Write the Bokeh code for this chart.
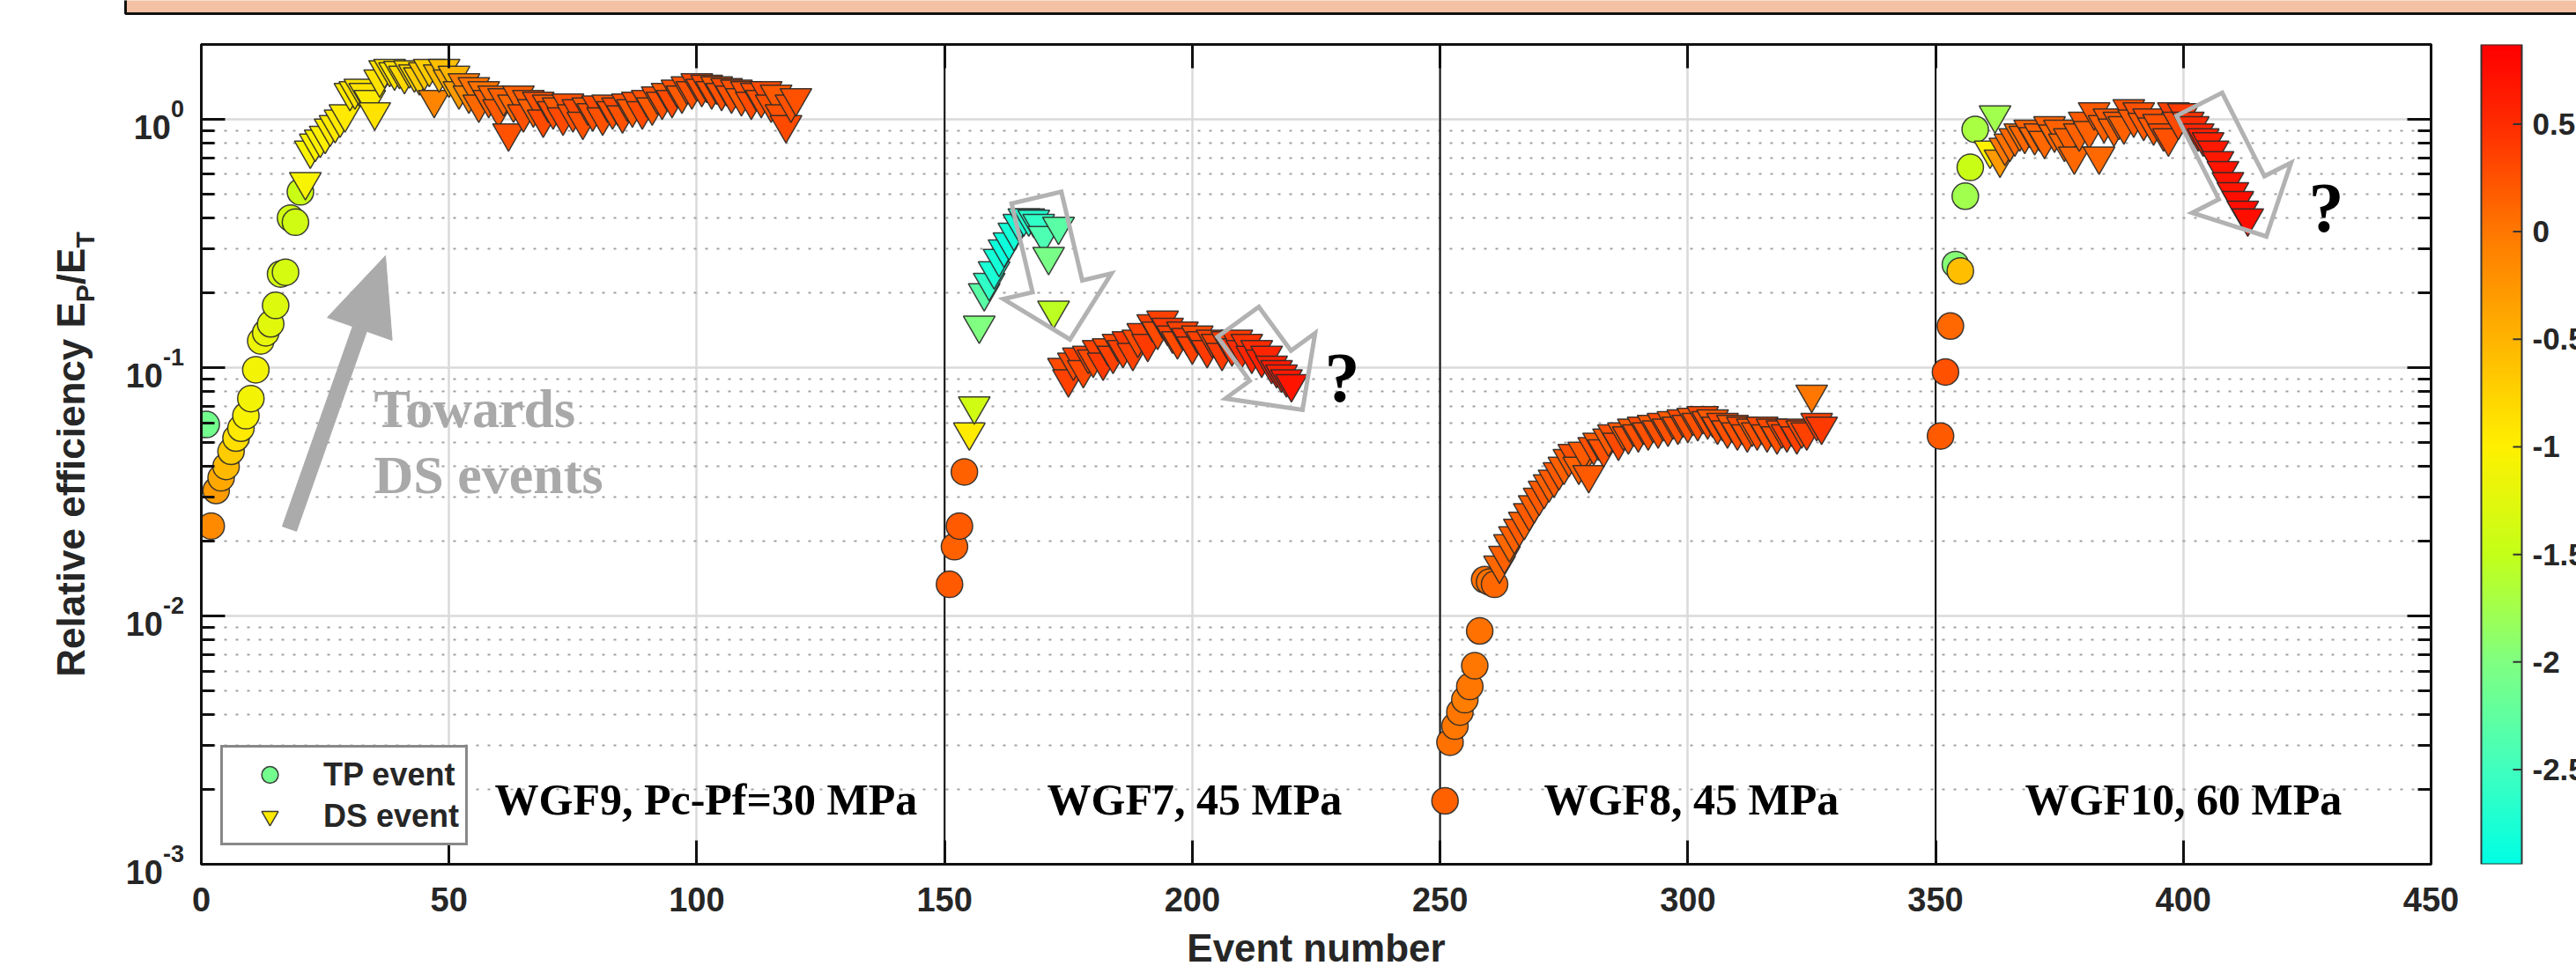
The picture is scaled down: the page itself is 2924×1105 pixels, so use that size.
import math
import numpy as np
from bokeh.plotting import figure
from bokeh.models import (ColumnDataSource, LinearColorMapper, Span, Label, Legend, LegendItem,
                          FixedTicker, LinearAxis, LogAxis, CustomJSTickFormatter, Range1d, Div)
from bokeh.layouts import row, column
from bokeh.embed import file_html
from bokeh.resources import INLINE
from bokeh.core.properties import value

# ----------------------------------------------------------------- data
x_ticks = [0, 50, 100, 150, 200, 250, 300, 350, 400, 450]
y_decades = [1e-3, 1e-2, 1e-1, 1.0]
y_exp_labels = ["-3", "-2", "-1", "0"]
group_bounds = [150, 250, 350]
group_labels = ["WGF9, Pc-Pf=30 MPa", "WGF7, 45 MPa", "WGF8, 45 MPa", "WGF10, 60 MPa"]

# WGF9 (events 1-120)
wgf9_tp_x = [1, 2, 3, 4, 5, 6, 7, 8, 9, 10, 11, 12, 13, 14, 15, 16, 17, 18, 19, 20]
wgf9_tp_y = [0.059, 0.023, 0.032, 0.036, 0.040, 0.046, 0.052, 0.057, 0.064, 0.075,
             0.098, 0.128, 0.138, 0.150, 0.178, 0.238, 0.242, 0.40, 0.385, 0.51]
wgf9_tp_c = [-2.1, -0.15, -0.3, -0.4, -0.55, -0.7, -0.85, -0.95, -1.05, -1.1,
             -1.1, -1.15, -1.2, -1.25, -1.3, -1.35, -1.35, -1.4, -1.4, -1.45]
wgf9_ds_first = 21
wgf9_ds_y = [0.56, 0.75, 0.80, 0.83, 0.86, 0.92, 0.95, 1.00, 1.05, 1.28,
             1.30, 1.33, 1.28, 1.20, 1.07, 1.45, 1.58, 1.60, 1.55, 1.57,
             1.50, 1.58, 1.52, 1.48, 1.55, 1.60, 1.20, 1.52, 1.60, 1.45,
             1.50, 1.30, 1.40, 1.25, 1.35, 1.15, 1.30, 1.20, 1.25, 1.10,
             1.22, 0.88, 1.15, 1.25, 1.05, 1.20, 1.10, 1.18, 1.00, 1.15,
             1.08, 1.12, 1.02, 1.16, 1.05, 1.10, 0.98, 1.12, 1.06, 1.14,
             1.02, 1.15, 1.08, 1.12, 1.04, 1.16, 1.10, 1.18, 1.08, 1.20,
             1.12, 1.24, 1.18, 1.28, 1.20, 1.32, 1.25, 1.36, 1.30, 1.40,
             1.33, 1.38, 1.30, 1.36, 1.28, 1.34, 1.25, 1.32, 1.22, 1.30,
             1.18, 1.28, 1.20, 1.30, 1.15, 1.26, 1.05, 0.95, 1.15, 1.22]
wgf9_ds_c = [-1.05, -1.05, -1.0, -1.0, -1.0, -0.95, -0.95, -0.95, -0.95, -0.95,
             -0.9, -0.9, -0.9, -0.95, -0.9, -0.9, -0.85, -0.85, -0.9, -0.85,
             -0.8, -0.75, -0.8, -0.7, -0.65, -0.7, -0.1, -0.55, -0.6, -0.45,
             -0.5, -0.3, -0.05, -0.1, 0.05, 0.1, 0.05, 0.15, 0.1, 0.2,
             0.15, 0.25, 0.1, 0.15, 0.25, 0.2, 0.15, 0.25, 0.3, 0.2,
             0.25, 0.2, 0.3, 0.25, 0.25, 0.3, 0.25, 0.2, 0.25, 0.3,
             0.25, 0.2, 0.25, 0.3, 0.25, 0.25, 0.2, 0.25, 0.3, 0.25,
             0.2, 0.25, 0.25, 0.2, 0.3, 0.25, 0.2, 0.25, 0.25, 0.3,
             0.25, 0.3, 0.25, 0.2, 0.25, 0.3, 0.25, 0.25, 0.2, 0.25,
             0.3, 0.25, 0.25, 0.3, 0.25, 0.2, 0.25, 0.3, 0.25, 0.25]

# WGF7 (events 151-220)
wgf7_tp_x = [151, 152, 153, 154]
wgf7_tp_y = [0.0134, 0.019, 0.023, 0.038]
wgf7_tp_c = [0.2, 0.15, 0.2, 0.15]
wgf7_ds_first = 155
wgf7_ds_y = [0.055, 0.070, 0.148, 0.20, 0.22, 0.245, 0.275, 0.30, 0.32, 0.35,
             0.38, 0.40, 0.40, 0.395, 0.38, 0.34, 0.28, 0.17, 0.37, 0.100,
             0.090, 0.105, 0.110, 0.098, 0.112, 0.108, 0.118, 0.105, 0.120, 0.112,
             0.125, 0.118, 0.128, 0.115, 0.130, 0.138, 0.125, 0.150, 0.140, 0.155,
             0.145, 0.135, 0.128, 0.140, 0.132, 0.122, 0.135, 0.128, 0.118, 0.130,
             0.125, 0.115, 0.128, 0.120, 0.130, 0.118, 0.125, 0.112, 0.118, 0.108,
             0.112, 0.102, 0.098, 0.094, 0.090, 0.086]
wgf7_ds_c = [-0.95, -1.4, -2.0, -2.3, -2.6, -2.75, -2.8, -2.85, -2.85, -2.8,
             -2.8, -2.75, -2.7, -2.7, -2.6, -2.4, -2.05, -1.55, -2.3, 0.3,
             0.35, 0.3, 0.35, 0.3, 0.35, 0.3, 0.35, 0.4, 0.3, 0.35,
             0.3, 0.35, 0.4, 0.35, 0.3, 0.35, 0.4, 0.35, 0.3, 0.35,
             0.4, 0.35, 0.3, 0.35, 0.4, 0.35, 0.3, 0.35, 0.4, 0.35,
             0.35, 0.4, 0.35, 0.45, 0.4, 0.5, 0.45, 0.55, 0.5, 0.6,
             0.55, 0.6, 0.65, 0.6, 0.65, 0.7]

# WGF8 (events 251-327)
wgf8_tp_x = [251, 252, 253, 254, 255, 256, 257, 258, 259, 260, 261]
wgf8_tp_y = [0.0018, 0.0031, 0.0036, 0.0041, 0.0046, 0.0052, 0.0063, 0.0087, 0.0140, 0.0137, 0.0134]
wgf8_tp_c = [0.15, 0.05, 0.0, 0.0, -0.05, 0.0, 0.0, 0.05, 0.05, 0.05, 0.1]
wgf8_ds_first = 262
wgf8_ds_y = [0.016, 0.0175, 0.0195, 0.021, 0.0225, 0.024, 0.026, 0.028, 0.030, 0.032,
             0.034, 0.0355, 0.038, 0.040, 0.043, 0.045, 0.040, 0.046, 0.037, 0.048,
             0.050, 0.047, 0.052, 0.054, 0.050, 0.055, 0.053, 0.057, 0.054, 0.058,
             0.055, 0.059, 0.056, 0.060, 0.057, 0.061, 0.058, 0.062, 0.059, 0.063,
             0.060, 0.064, 0.061, 0.062, 0.058, 0.060, 0.056, 0.059, 0.055, 0.058,
             0.054, 0.057, 0.055, 0.058, 0.054, 0.057, 0.053, 0.056, 0.054, 0.057,
             0.053, 0.056, 0.055, 0.078, 0.060, 0.058]
wgf8_ds_c = [0.1, 0.15, 0.1, 0.15, 0.2, 0.15, 0.2, 0.15, 0.2, 0.2,
             0.15, 0.2, 0.2, 0.15, 0.2, 0.25, 0.15, 0.2, 0.2, 0.25,
             0.2, 0.25, 0.2, 0.25, 0.3, 0.2, 0.25, 0.2, 0.25, 0.3,
             0.25, 0.2, 0.25, 0.3, 0.25, 0.2, 0.25, 0.3, 0.25, 0.2,
             0.25, 0.3, 0.25, 0.2, 0.25, 0.3, 0.25, 0.2, 0.25, 0.3,
             0.25, 0.2, 0.25, 0.3, 0.25, 0.3, 0.25, 0.3, 0.35, 0.3,
             0.35, 0.3, 0.35, 0.0, 0.35, 0.4]

# WGF10 (events 351-413)
wgf10_tp_x = [351, 352, 353, 354, 355, 356, 357, 358]
wgf10_tp_y = [0.053, 0.096, 0.147, 0.26, 0.245, 0.49, 0.64, 0.91]
wgf10_tp_c = [0.2, 0.25, 0.1, -1.95, -0.6, -1.75, -1.45, -1.7]
wgf10_ds_first = 361
wgf10_ds_y = [0.75, 1.04, 0.69, 0.77, 0.80, 0.84, 0.88, 0.86, 0.91, 0.85,
              0.88, 0.82, 0.94, 0.87, 0.91, 0.80, 0.84, 0.71, 0.88, 0.98,
              0.90, 1.07, 0.71, 0.95, 1.01, 0.92, 0.98, 0.94, 1.10, 1.00,
              1.07, 0.97, 1.01, 0.93, 0.96, 0.88, 0.84, 1.07, 0.98, 1.06,
              0.98, 0.94, 0.88, 0.84, 0.81, 0.75, 0.68, 0.62, 0.56, 0.51,
              0.47, 0.43, 0.40]
wgf10_ds_c = [-1.0, -1.75, -0.3, 0.0, 0.05, 0.1, 0.05, 0.1, 0.15, 0.1,
              0.15, 0.1, 0.15, 0.1, 0.15, 0.1, 0.15, 0.1, 0.15, 0.2,
              0.15, 0.2, 0.1, 0.15, 0.2, 0.15, 0.2, 0.15, 0.25, 0.2,
              0.25, 0.2, 0.25, 0.2, 0.25, 0.3, 0.25, 0.35, 0.3, 0.4,
              0.45, 0.5, 0.55, 0.6, 0.6, 0.65, 0.65, 0.7, 0.7, 0.7,
              0.75, 0.75, 0.75]

# colour bar
CB_LOW, CB_HIGH = -2.94, 0.87
cb_ticks = [0.5, 0.0, -0.5, -1.0, -1.5, -2.0, -2.5]
cb_tick_labels = ["0.5", "0", "-0.5", "-1", "-1.5", "-2", "-2.5"]
cb_stop_vals = [-2.94, -2.5, -2.0, -1.5, -1.0, -0.5, 0.0, 0.5, 0.87]
cb_stop_cols = ["#00FFE4", "#40FFBE", "#80FF80", "#C4FF18", "#FFF000",
                "#FFB400", "#FF7800", "#FF2C00", "#FF0000"]

# --------------------------------------------------------------- styling
def _rgb(h):
    return [int(h[i:i + 2], 16) for i in (1, 3, 5)]

_stops = np.array([_rgb(c) for c in cb_stop_cols], dtype=float)
palette = []
for v in np.linspace(CB_LOW, CB_HIGH, 256):
    r, g, b = (np.interp(v, cb_stop_vals, _stops[:, k]) for k in range(3))
    palette.append("#%02X%02X%02X" % (int(round(r)), int(round(g)), int(round(b))))
mapper = LinearColorMapper(palette=palette, low=CB_LOW, high=CB_HIGH)

SANS = "Liberation Sans"
SERIF = "Liberation Serif"
INK = "#262626"

PAGE_W, PAGE_H = 2924, 1105
BANNER_H = 17
ROW_H = PAGE_H - BANNER_H
LEFT_W = 215
CB_X0 = 2800
FL, FR, FT, FB = 228, 2759, 50, 981         # frame edges on the page
XMIN, XMAX = 0, 450
YMIN, YMAX = 1e-3, 2.0
LY0, LY1 = math.log10(YMIN), math.log10(YMAX)
BASE_SHIFT = 0.35                            # alphabetic-baseline correction (fraction of em)


def px2x(px):
    return XMIN + (px - FL) / (FR - FL) * (XMAX - XMIN)


def py2y(py):
    return 10 ** (LY0 + (FB - py) / (FB - FT) * (LY1 - LY0))


def y2py(v):
    return FB - (math.log10(v) - LY0) / (LY1 - LY0) * (FB - FT)


# ------------------------------------------------------------- main plot
p = figure(width=CB_X0 - LEFT_W, height=ROW_H, title=None,
           x_range=Range1d(XMIN, XMAX), y_range=Range1d(YMIN, YMAX), y_axis_type="log",
           output_backend="svg", toolbar_location=None,
           min_border_left=FL - LEFT_W, min_border_right=CB_X0 - FR,
           min_border_top=FT - BANNER_H, min_border_bottom=PAGE_H - FB)
p.background_fill_color = "white"
p.border_fill_color = "white"
p.outline_line_color = "#111111"
p.outline_line_width = 3

y_minor = [m * d for d in y_decades[:-1] for m in range(2, 10)] + [2.0 * y_decades[-1]]
empty = CustomJSTickFormatter(code="return ''")


def style_axis(ax, ticker, show_labels):
    ax.ticker = ticker
    ax.axis_line_color = "#111111"
    ax.axis_line_width = 3
    ax.major_tick_line_color = "#111111"
    ax.major_tick_line_width = 3
    ax.minor_tick_line_color = "#111111"
    ax.minor_tick_line_width = 3
    ax.major_tick_in = 27
    ax.major_tick_out = 0
    ax.minor_tick_in = 15
    ax.minor_tick_out = 0
    if show_labels:
        ax.major_label_text_font = SANS
        ax.major_label_text_font_style = "bold"
        ax.major_label_text_font_size = "38px"
        ax.major_label_text_color = INK
        ax.major_label_standoff = 26
    else:
        ax.formatter = empty
        ax.major_label_text_font_size = "1px"
        ax.major_label_standoff = 0


style_axis(p.xaxis[0], FixedTicker(ticks=x_ticks, minor_ticks=[]), True)
p.xaxis[0].axis_label = "Event number"
p.xaxis[0].axis_label_text_font = SANS
p.xaxis[0].axis_label_text_font_style = "bold"
p.xaxis[0].axis_label_text_font_size = "44px"
p.xaxis[0].axis_label_text_color = INK
p.xaxis[0].axis_label_standoff = 14
style_axis(p.yaxis[0], FixedTicker(ticks=y_decades, minor_ticks=y_minor), False)
ax_top = LinearAxis()
style_axis(ax_top, FixedTicker(ticks=x_ticks, minor_ticks=[]), False)
p.add_layout(ax_top, "above")
ax_right = LogAxis()
style_axis(ax_right, FixedTicker(ticks=y_decades, minor_ticks=y_minor), False)
p.add_layout(ax_right, "right")

p.xgrid.ticker = FixedTicker(ticks=x_ticks, minor_ticks=[])
p.xgrid.grid_line_color = "#DADADA"
p.xgrid.grid_line_width = 2.5
p.ygrid.ticker = FixedTicker(ticks=y_decades, minor_ticks=y_minor)
p.ygrid.grid_line_color = "#DADADA"
p.ygrid.grid_line_width = 2.5
p.ygrid.minor_grid_line_color = "#A0A0A0"
p.ygrid.minor_grid_line_width = 2
p.ygrid.minor_grid_line_dash = "3 10"

for b in group_bounds:
    p.add_layout(Span(location=b, dimension="height", line_color="#111111",
                      line_width=2, level="underlay"))


def add_group(tx, ty, tc, ds_first, dy, dc):
    s1 = ColumnDataSource(dict(x=tx, y=ty, c=tc))
    r1 = p.scatter("x", "y", source=s1, marker="circle", size=30,
                   fill_color={"field": "c", "transform": mapper},
                   line_color="#2A2A2A", line_width=1.5, line_alpha=0.9)
    dx = list(range(ds_first, ds_first + len(dy)))
    s2 = ColumnDataSource(dict(x=dx, y=dy, c=dc))
    r2 = p.scatter("x", "y", source=s2, marker="inverted_triangle", size=36,
                   fill_color={"field": "c", "transform": mapper},
                   line_color="#2A2A2A", line_width=1.5, line_alpha=0.9)
    return r1, r2


r9c, r9t = add_group(wgf9_tp_x, wgf9_tp_y, wgf9_tp_c, wgf9_ds_first, wgf9_ds_y, wgf9_ds_c)
add_group(wgf7_tp_x, wgf7_tp_y, wgf7_tp_c, wgf7_ds_first, wgf7_ds_y, wgf7_ds_c)
add_group(wgf8_tp_x, wgf8_tp_y, wgf8_tp_c, wgf8_ds_first, wgf8_ds_y, wgf8_ds_c)
add_group(wgf10_tp_x, wgf10_tp_y, wgf10_tp_c, wgf10_ds_first, wgf10_ds_y, wgf10_ds_c)


def block_arrow(tail, tip, shaft_w, head_w, head_len):
    (tx, ty), (hx, hy) = tail, tip
    L = math.hypot(hx - tx, hy - ty)
    ux, uy = (hx - tx) / L, (hy - ty) / L
    nx, ny = -uy, ux
    bx, by = hx - ux * head_len, hy - uy * head_len
    s, h = shaft_w / 2, head_w / 2
    pts = [(tx + nx * s, ty + ny * s), (bx + nx * s, by + ny * s), (bx + nx * h, by + ny * h),
           (hx, hy), (bx - nx * h, by - ny * h), (bx - nx * s, by - ny * s), (tx - nx * s, ty - ny * s)]
    return [px2x(a) for a, _ in pts], [py2y(b) for _, b in pts]


ax_, ay_ = block_arrow((328, 600), (437, 290), 17, 78, 88)
p.patch(ax_, ay_, fill_color="#ABABAB", line_color="#ABABAB", line_width=1)
for tail, tip in [((1176, 224), (1214, 385)), ((1405, 365), (1478, 465)), ((2496, 118), (2572, 268))]:
    bx_, by_ = block_arrow(tail, tip, 58, 126, 62)
    p.patch(bx_, by_, fill_alpha=0, line_color="#B2B2B2", line_width=5, line_join="miter")


def add_text(px, baseline_py, txt, fs, color, align="left"):
    p.add_layout(Label(x=px2x(px), y=py2y(baseline_py - BASE_SHIFT * fs), text=txt,
                       text_font=SERIF, text_font_style="bold", text_font_size=f"{fs}px",
                       text_color=color, text_baseline="alphabetic", text_align=align))


group_label_px = [561, 1188, 1752, 2298]
for txt, gx in zip(group_labels, group_label_px):
    add_text(gx, 925, txt, 50, "black")
add_text(424, 485, "Towards", 62, "#A9A9A9")
add_text(424, 560, "DS events", 62, "#A9A9A9")
add_text(1523, 456, "?", 80, "black", "center")
add_text(2640, 263, "?", 80, "black", "center")

legend = Legend(items=[LegendItem(label="TP event", renderers=[r9c], index=0),
                       LegendItem(label="DS event", renderers=[r9t], index=8)],
                location=(250 - FL, FB - 960), orientation="vertical", margin=0, padding=7,
                spacing=0, glyph_width=92, glyph_height=47, label_height=47, label_standoff=15,
                border_line_color="#111111", border_line_width=3,
                background_fill_color="white", background_fill_alpha=1,
                label_text_font=SANS, label_text_font_style="bold", label_text_font_size="36px",
                label_text_color=INK)
p.add_layout(legend)

# ------------------------------------------------------------- left strip (HTML text)
parts = []
for v, e in zip(y_decades, y_exp_labels):
    top = y2py(v) + 10 - 19 - BANNER_H
    parts.append(
        f'<div style="position:absolute;right:{LEFT_W - 209}px;top:{top:.1f}px;'
        f'font-size:38px;line-height:38px;height:38px;white-space:nowrap;">10'
        f'<span style="font-size:27px;position:relative;top:-25px;">{e}</span></div>')
ycenter = (FT + FB) / 2 - BANNER_H
parts.append(
    f'<div style="position:absolute;left:83px;top:{ycenter:.1f}px;font-size:44px;line-height:44px;'
    f'white-space:nowrap;transform-origin:center;transform:translate(-50%,-50%) rotate(-90deg);">'
    f'Relative efficiency E<span style="font-size:30px;position:relative;top:11px;">P</span>'
    f'/E<span style="font-size:30px;position:relative;top:11px;">T</span></div>')
left_html = (f'<div style="position:relative;width:{LEFT_W}px;height:{ROW_H}px;'
             f"font-family:'{SANS}';font-weight:bold;color:{INK};\">" + "".join(parts) + "</div>")
pl = Div(text=left_html, width=LEFT_W, height=ROW_H, margin=0)

# ------------------------------------------------------------- colour bar strip
pc = figure(width=PAGE_W - CB_X0, height=ROW_H, title=None, x_range=Range1d(CB_X0, PAGE_W),
            y_range=Range1d(CB_LOW, CB_HIGH), output_backend="svg", toolbar_location=None,
            x_axis_location=None, y_axis_location=None, min_border_left=0, min_border_right=0,
            min_border_top=FT - BANNER_H, min_border_bottom=PAGE_H - FB)
pc.grid.visible = False
pc.outline_line_color = None
pc.background_fill_color = "white"
pc.border_fill_color = "white"
grad = np.linspace(CB_LOW, CB_HIGH, 512).reshape(512, 1)
pc.image(image=[grad], x=2816, y=CB_LOW, dw=46, dh=CB_HIGH - CB_LOW, color_mapper=mapper)
pc.quad(left=[2816], right=[2862], bottom=[CB_LOW], top=[CB_HIGH], fill_alpha=0,
        line_color="#333333", line_width=2)
pc.segment(x0=[2852] * len(cb_ticks), x1=[2862] * len(cb_ticks), y0=cb_ticks, y1=cb_ticks,
           line_color="#333333", line_width=2)
pc.text(x=[2874] * len(cb_ticks), y=cb_ticks, text=cb_tick_labels, text_font=value(SANS),
        text_font_style="bold", text_font_size="35px", text_color=INK, text_align="left",
        text_baseline="middle")

# ------------------------------------------------------------- banner strip
pb = figure(width=PAGE_W, height=BANNER_H, title=None, x_range=Range1d(0, PAGE_W),
            y_range=Range1d(BANNER_H, 0), output_backend="svg", toolbar_location=None,
            x_axis_location=None, y_axis_location=None, min_border=0)
pb.grid.visible = False
pb.outline_line_color = None
pb.background_fill_color = "white"
pb.border_fill_color = "white"
pb.quad(left=[142], right=[PAGE_W + 20], top=[-20], bottom=[15], fill_color="#F4C1A5",
        line_color="#111111", line_width=3)

layout = column(pb, row(pl, p, pc))
open("out.html", "w").write(file_html(layout, INLINE))
